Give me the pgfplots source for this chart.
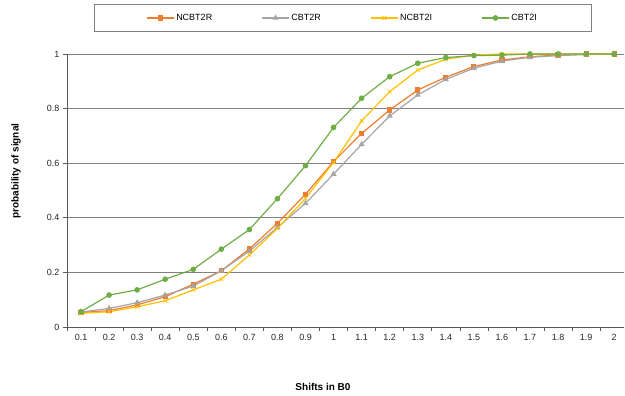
\documentclass[border=0pt]{standalone}
\usepackage{fontspec}
\setmainfont{Liberation Sans}
\usepackage{pgfplots}
\usepackage{pgfplotstable}
\pgfplotsset{compat=1.18}
\definecolor{cOrange}{HTML}{ED7D31}
\definecolor{cGray}{HTML}{A5A5A5}
\definecolor{cYellow}{HTML}{FFC000}
\definecolor{cGreen}{HTML}{70AD47}
\pgfplotstableread{
x ncbtr cbtr ncbti cbti
0  0.053 0.055 0.050 0.056
1  0.060 0.068 0.056 0.117
2  0.081 0.089 0.074 0.136
3  0.111 0.117 0.096 0.175
4  0.157 0.150 0.136 0.211
5  0.206 0.206 0.175 0.285
6  0.286 0.278 0.264 0.357
7  0.380 0.365 0.361 0.470
8  0.486 0.453 0.471 0.591
9  0.606 0.560 0.603 0.731
10 0.709 0.669 0.755 0.838
11 0.795 0.773 0.862 0.917
12 0.868 0.850 0.941 0.966
13 0.915 0.907 0.981 0.987
14 0.954 0.948 0.996 0.994
15 0.978 0.974 1.000 0.996
16 0.990 0.988 1.000 1.000
17 0.996 0.994 1.000 1.000
18 1.000 0.998 1.000 1.000
19 1.000 1.000 1.000 1.000
}\datatable
\begin{document}
\begin{tikzpicture}
\useasboundingbox (0,0) rectangle (625pt,396pt);
\begin{axis}[
  at={(67pt,69pt)}, anchor=south west,
  scale only axis, width=557pt, height=273pt,
  xmin=-0.5, xmax=19.35, ymin=0, ymax=1,
  axis x line*=bottom, axis y line*=left,
  axis line style={-, black!65, line width=0.8pt},
  xtick={0,...,19},
  xticklabels={0.1,0.2,0.3,0.4,0.5,0.6,0.7,0.8,0.9,1,1.1,1.2,1.3,1.4,1.5,1.6,1.7,1.8,1.9,2},
  minor xtick={-0.5,0.5,...,18.5},
  major x tick style={draw=none},
  minor x tick style={black!65, line width=0.6pt},
  ytick={0,0.2,0.4,0.6,0.8,1},
  yticklabels={0,0.2,0.4,0.6,0.8,1},
  major y tick style={black!65, line width=0.8pt},
  tick align=outside,
  major tick length=4pt, minor tick length=4pt,
  ymajorgrids, grid style={black!50, line width=0.8pt},
  tick label style={font=\fontsize{9}{10}\selectfont, text=black!85},
  /pgf/number format/assume math mode=true,
  xlabel={Shifts in B0}, ylabel={probability of signal},
  label style={font=\fontsize{10}{12}\selectfont\bfseries},
  xlabel style={at={(rel axis cs:0.4596,-0.2198)}, anchor=center},
  ylabel style={at={(rel axis cs:-0.0916,0.571)}, anchor=center},
  legend columns=4,
  legend style={at={(rel axis cs:0.4946,1.1319)}, anchor=center,
    draw=black!50, line width=0.8pt, inner xsep=52pt, inner ysep=8pt,
    font=\fontsize{9}{10}\selectfont,
    /tikz/every even column/.append style={column sep=47pt}},
  legend image code/.code={\draw[mark repeat=2,mark phase=2] plot coordinates {(0cm,0cm) (0.48cm,0cm) (0.95cm,0cm)};},
  every axis plot/.append style={line width=1.2pt},
]
\addplot[cOrange, mark=square*, mark size=2pt, mark options={solid}] table[x=x,y=ncbtr]{\datatable};
\addlegendentry{NCBT2R}
\addplot[cGray, mark=triangle*, mark size=2.3pt, mark options={solid}] table[x=x,y=cbtr]{\datatable};
\addlegendentry{CBT2R}
\addplot[cYellow, mark=x, mark size=2.5pt, mark options={solid, line width=0.8pt}] table[x=x,y=ncbti]{\datatable};
\addlegendentry{NCBT2I}
\addplot[cGreen, mark=*, mark size=2.2pt, mark options={solid}] table[x=x,y=cbti]{\datatable};
\addlegendentry{CBT2I}
\end{axis}
\end{tikzpicture}
\end{document}
